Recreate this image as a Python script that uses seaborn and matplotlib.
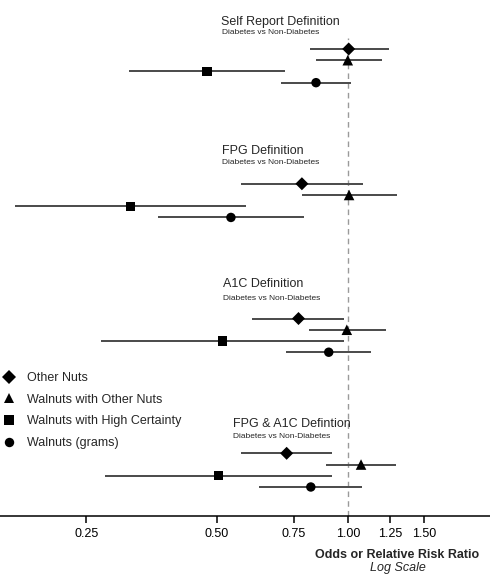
import matplotlib
matplotlib.use("Agg")
import pandas as pd
import matplotlib.pyplot as plt
import seaborn as sns
from matplotlib.ticker import NullLocator

# data (odds / relative risk ratio with CI)
groups = ["Self Report Definition", "FPG Definition", "A1C Definition", "FPG & A1C Defintion"]
subtitle = "Diabetes vs Non-Diabetes"
series = ["Other Nuts", "Walnuts with Other Nuts", "Walnuts with High Certainty", "Walnuts (grams)"]

self_est = [1.005, 1.00, 0.474, 0.845]
self_lo = [0.819, 0.844, 0.314, 0.702]
self_hi = [1.243, 1.197, 0.718, 1.02]

fpg_est = [0.784, 1.007, 0.316, 0.538]
fpg_lo = [0.567, 0.786, 0.171, 0.366]
fpg_hi = [1.084, 1.297, 0.584, 0.792]

a1c_est = [0.77, 0.995, 0.514, 0.904]
a1c_lo = [0.603, 0.813, 0.27, 0.722]
a1c_hi = [0.98, 1.223, 0.98, 1.133]

both_est = [0.723, 1.073, 0.503, 0.822]
both_lo = [0.567, 0.891, 0.276, 0.626]
both_hi = [0.919, 1.294, 0.919, 1.08]

xticks = [0.25, 0.50, 0.75, 1.00, 1.25, 1.50]
xtick_labels = ["0.25", "0.50", "0.75", "1.00", "1.25", "1.50"]

# build long table
rows = []
all_est = [self_est, fpg_est, a1c_est, both_est]
all_lo = [self_lo, fpg_lo, a1c_lo, both_lo]
all_hi = [self_hi, fpg_hi, a1c_hi, both_hi]
for gi, g in enumerate(groups):
    for si, s in enumerate(series):
        rows.append({"group": g, "series": s, "est": all_est[gi][si],
                     "lo": all_lo[gi][si], "hi": all_hi[gi][si], "pos": gi * 12 + si})
df = pd.DataFrame(rows)

sns.set_style("white")
plt.rcParams["font.family"] = ["Liberation Sans", "DejaVu Sans"]

fig = plt.figure(figsize=(4.9, 5.86), dpi=100)
ax = fig.add_axes([0, 0.1195, 1, 0.8805])

# confidence intervals
ax.hlines(df["pos"], df["lo"], df["hi"], color="#4a4a4a", lw=1.4, zorder=1)

markers = {"Other Nuts": "D", "Walnuts with Other Nuts": "^",
           "Walnuts with High Certainty": "s", "Walnuts (grams)": "o"}
sizes = {"Other Nuts": 44, "Walnuts with Other Nuts": 58,
         "Walnuts with High Certainty": 44, "Walnuts (grams)": 46}
sns.scatterplot(data=df, x="est", y="pos", style="series", size="series",
                markers=markers, sizes=sizes, style_order=series, size_order=series,
                color="black", linewidth=0, ax=ax, zorder=3)

# reference line at 1
ax.axvline(1.0, ymin=0, ymax=0.926, color="#9a9a9a", lw=1.0, ls=(0, (4, 3)), zorder=0)

ax.set_xscale("log", base=2)
ax.set_xlim(0.158, 2.127)
ax.set_ylim(41.58, -4.36)
ax.set_xticks(xticks)
ax.set_xticklabels(xtick_labels)
ax.xaxis.set_minor_locator(NullLocator())
ax.set_yticks([])
ax.set_xlabel("")
ax.set_ylabel("")
for side in ["top", "left", "right"]:
    ax.spines[side].set_visible(False)
ax.spines["bottom"].set_linewidth(1.1)
ax.spines["bottom"].set_color("black")
ax.tick_params(axis="x", length=5, width=1.1, labelsize=9, pad=4, colors="black",
               bottom=True, direction="out")

# group headings (pixel positions from the reference)
title_px = [(221, 22, 222, 33), (222, 151, 222, 163), (223, 284, 223, 299), (233, 424, 233, 437)]
for g, (tx, ty, sx, sy) in zip(groups, title_px):
    fig.text(tx / 490, 1 - ty / 586, g, fontsize=9, ha="left", va="center")
    fig.text(sx / 490, 1 - sy / 586, subtitle, fontsize=6, ha="left", va="center")

fig.text(397.5 / 490, 1 - 555 / 586, "Odds or Relative Risk Ratio", fontsize=9,
         fontweight="bold", ha="center", va="center")
fig.text(397.5 / 490, 1 - 568 / 586, "Log Scale", fontsize=9, style="italic",
         ha="center", va="center")

sns.move_legend(ax, "upper left", bbox_to_anchor=(3 / 490, (516 - 372) / 516),
                frameon=False, title=None, fontsize=9, borderpad=0,
                handlelength=1.0, handletextpad=0.9, labelspacing=0.78, borderaxespad=0)

fig.savefig("out.png", dpi=100)
